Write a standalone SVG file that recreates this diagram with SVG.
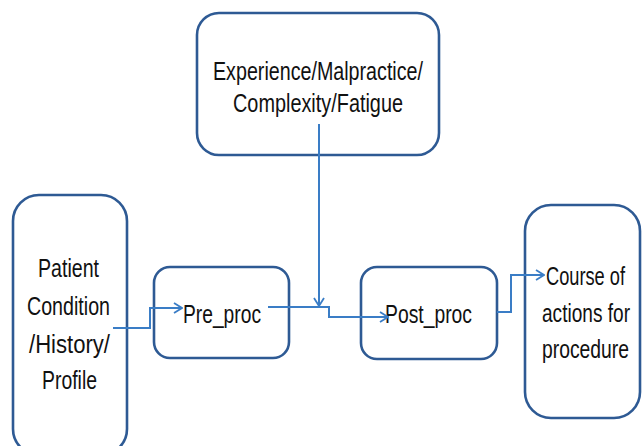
<svg xmlns="http://www.w3.org/2000/svg" width="642" height="446" viewBox="0 0 642 446">
<defs>
<style>
.box{fill:#fff;stroke:#2E5A94;stroke-width:2.6}
.t{font-family:"Liberation Sans",Arial,sans-serif;font-size:25px;fill:#111}
.c{fill:none;stroke:#3A7DC6;stroke-width:2}
</style>
<marker id="ah" viewBox="0 0 10 12" refX="9" refY="6" markerWidth="10" markerHeight="12" markerUnits="userSpaceOnUse" orient="auto">
<path d="M1,1 L9,6 L1,11" fill="none" stroke="#3A7DC6" stroke-width="1.8"/>
</marker>
</defs>
<rect width="642" height="446" fill="#fff"/>
<g id="factors">
<rect class="box" x="197" y="13" width="242" height="142" rx="22"/>
<text class="t" transform="translate(213,80) scale(0.8,1)" textLength="262.5" lengthAdjust="spacingAndGlyphs">Experience/Malpractice/</text>
<text class="t" transform="translate(233,112) scale(0.8,1)" textLength="212.5" lengthAdjust="spacingAndGlyphs">Complexity/Fatigue</text>
</g>
<g id="patient">
<rect class="box" x="13" y="195" width="114" height="260" rx="26"/>
<text class="t" transform="translate(38,277) scale(0.8,1)" textLength="76.25" lengthAdjust="spacingAndGlyphs">Patient</text>
<text class="t" transform="translate(27,315) scale(0.8,1)" textLength="103.75" lengthAdjust="spacingAndGlyphs">Condition</text>
<text class="t" transform="translate(29,353) scale(0.8,1)" textLength="101.25" lengthAdjust="spacingAndGlyphs">/History/</text>
<text class="t" transform="translate(42,389) scale(0.8,1)" textLength="68.75" lengthAdjust="spacingAndGlyphs">Profile</text>
</g>
<g id="pre">
<rect class="box" x="154" y="267" width="135" height="91" rx="16"/>
<text class="t" transform="translate(183,323) scale(0.8,1)" textLength="97.5" lengthAdjust="spacingAndGlyphs">Pre_proc</text>
</g>
<g id="post">
<rect class="box" x="361" y="267" width="136" height="92" rx="16"/>
<text class="t" transform="translate(385,323) scale(0.8,1)" textLength="108.75" lengthAdjust="spacingAndGlyphs">Post_proc</text>
</g>
<g id="course">
<rect class="box" x="525" y="205" width="115" height="213" rx="26"/>
<text class="t" transform="translate(546,285) scale(0.8,1)" textLength="98.75" lengthAdjust="spacingAndGlyphs">Course of</text>
<text class="t" transform="translate(542,322) scale(0.8,1)" textLength="110" lengthAdjust="spacingAndGlyphs">actions for</text>
<text class="t" transform="translate(542,358) scale(0.8,1)" textLength="108.75" lengthAdjust="spacingAndGlyphs">procedure</text>
</g>
<g id="connectors">
<polyline class="c" points="113,328 150,328 150,308 182,308" marker-end="url(#ah)"/>
<polyline class="c" points="319,124 319,306" marker-end="url(#ah)"/>
<polyline class="c" points="268,307 329,307 329,317 388,317" marker-end="url(#ah)"/>
<polyline class="c" points="497,312 511,312 511,275 544,275" marker-end="url(#ah)"/>
</g>
</svg>
